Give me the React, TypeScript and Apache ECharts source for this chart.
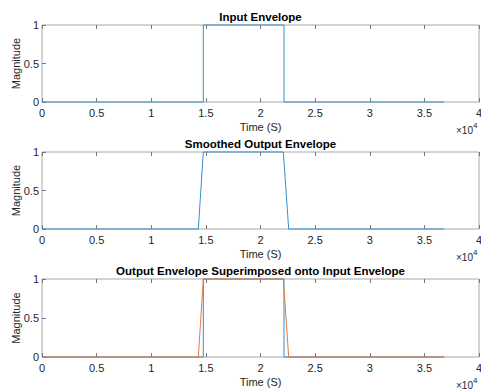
import React, { useEffect, useRef } from "react";
import * as echarts from "echarts";

const inputTime = [0, 14766, 14766, 22150, 22150, 36826];
const inputMag = [0, 0, 1, 1, 0, 0];
const smoothTime = [0, 14310, 14766, 22090, 22580, 36826];
const smoothMag = [0, 0, 1, 1, 0, 0];
const titles = [
  "Input Envelope",
  "Smoothed Output Envelope",
  "Output Envelope Superimposed onto Input Envelope",
];
const xLabel = "Time (S)";
const yLabel = "Magnitude";

const BLUE = "#3a8fc6";
const ORANGE = "#e07a45";
const FONT = "Liberation Sans";

export default function App() {
  const ref = useRef<HTMLDivElement>(null);
  useEffect(() => {
    if (!ref.current) return;
    const chart = echarts.init(ref.current, null, { renderer: "svg" });
    const tops = [25, 152, 279];
    const heights = [77, 77, 78];
    const grids = tops.map((t, i) => ({
      left: 42,
      right: 2,
      top: t,
      height: heights[i],
      containLabel: false,
      outerBoundsMode: "none",
      show: true,
      borderColor: "#a8a8a8",
      borderWidth: 1,
      backgroundColor: "transparent",
    }));
    const xAxes: any[] = [];
    const yAxes: any[] = [];
    tops.forEach((_, i) => {
      xAxes.push({
        type: "value",
        gridIndex: i,
        min: 0,
        max: 40000,
        interval: 5000,
        position: "bottom",
        name: xLabel,
        nameLocation: "middle",
        nameGap: 19,
        nameMoveOverlap: false,
        nameTextStyle: { fontFamily: FONT, fontSize: 11, color: "#262626" },
        axisLine: { show: false },
        axisTick: { inside: true, length: 4, lineStyle: { color: "#777" } },
        axisLabel: {
          fontFamily: FONT,
          fontSize: 11,
          color: "#262626",
          margin: 5,
          formatter: (v: number) => String(v / 10000),
        },
        splitLine: { show: false },
      });
      xAxes.push({
        type: "value",
        gridIndex: i,
        min: 0,
        max: 40000,
        interval: 5000,
        position: "top",
        axisLine: { show: false },
        axisTick: { inside: true, length: 4, lineStyle: { color: "#777" } },
        axisLabel: { show: false },
        splitLine: { show: false },
      });
      yAxes.push({
        type: "value",
        gridIndex: i,
        min: 0,
        max: 1,
        interval: 0.5,
        name: yLabel,
        nameLocation: "middle",
        nameGap: 21,
        nameMoveOverlap: false,
        nameTextStyle: { fontFamily: FONT, fontSize: 11, color: "#262626" },
        axisLine: { show: false },
        axisTick: { inside: true, length: 4, lineStyle: { color: "#777" } },
        axisLabel: { fontFamily: FONT, fontSize: 11, color: "#262626", margin: 3 },
        splitLine: { show: false },
      });
    });
    const zip = (xs: number[], ys: number[]) => xs.map((x, k) => [x, ys[k]]);
    const line = (xi: number, yi: number, data: number[][], color: string) => ({
      type: "line",
      xAxisIndex: xi,
      yAxisIndex: yi,
      data,
      showSymbol: false,
      symbol: "none",
      clip: false,
      z: 5,
      lineStyle: { color, width: 1 },
      silent: true,
    });
    chart.setOption({
      animation: false,
      backgroundColor: "#ffffff",
      grid: grids,
      xAxis: xAxes,
      yAxis: yAxes,
      title: titles.map((t, i) => ({
        text: t,
        left: 260.5,
        top: tops[i] - 14,
        padding: 0,
        textAlign: "center",
        textStyle: { fontFamily: FONT, fontSize: 11.5, fontWeight: "bold", color: "#000" },
      })),
      graphic: tops.map((t, i) => ({
        type: "text",
        left: 456,
        top: t + heights[i] + 19,
        style: {
          text: "{a|×10}{b|4}",
          rich: {
            a: { fontFamily: FONT, fontSize: 10, fill: "#262626", verticalAlign: "bottom" },
            b: { fontFamily: FONT, fontSize: 8, fill: "#262626", verticalAlign: "top", padding: [0, 0, 6, 0] },
          },
        },
      })),
      series: [
        line(0, 0, zip(inputTime, inputMag), BLUE),
        line(2, 1, zip(smoothTime, smoothMag), BLUE),
        line(4, 2, zip(inputTime, inputMag), BLUE),
        line(4, 2, zip(smoothTime, smoothMag), ORANGE),
      ],
    });
    return () => chart.dispose();
  }, []);
  return <div ref={ref} style={{ width: 481, height: 390, position: "absolute", left: 0, top: 0 }} />;
}
